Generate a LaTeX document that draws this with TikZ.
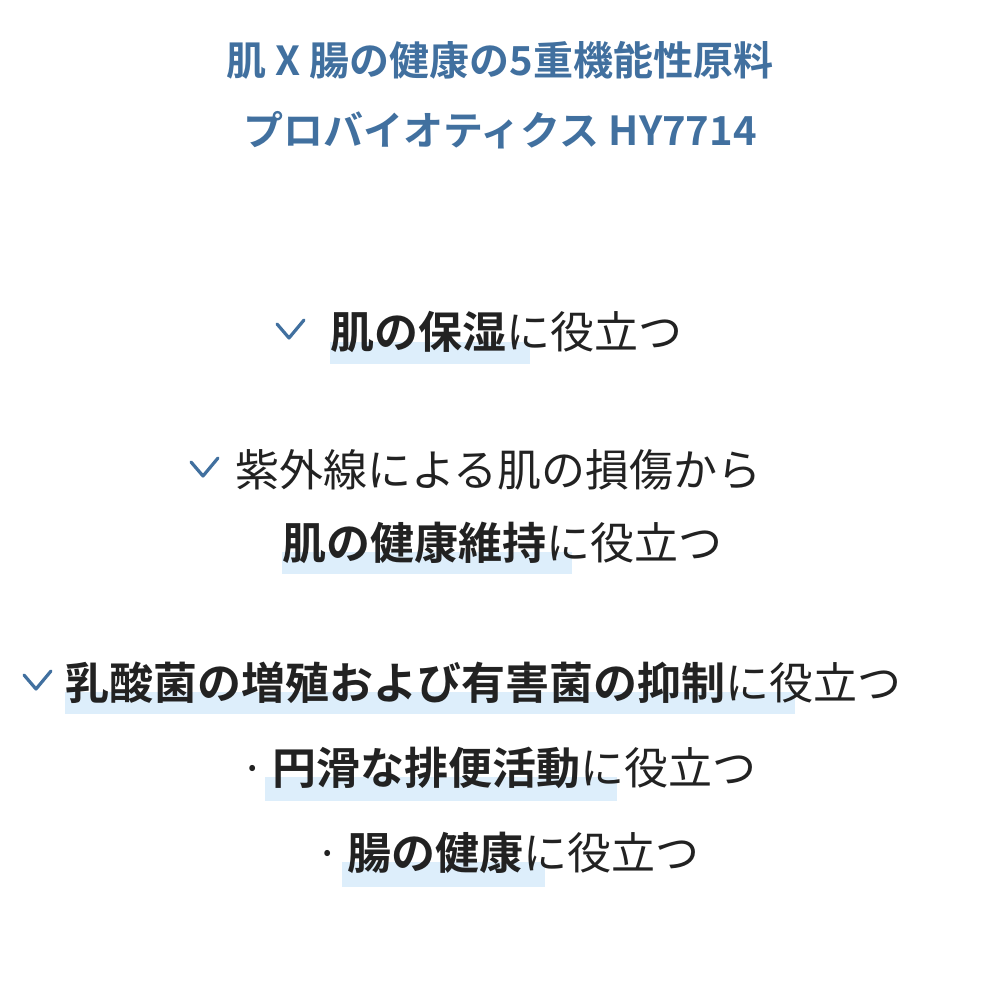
\documentclass[tikz,border=0pt]{standalone}
\usepackage{fontspec}
\setmainfont{Noto Sans CJK JP}
\newfontfamily\jpb{Noto Sans CJK JP Bold}
\definecolor{ttl}{HTML}{41709F}
\definecolor{hl}{HTML}{DDEEFB}
\definecolor{txt}{HTML}{222222}
\tikzset{
 ln/.style={anchor=west,inner sep=0pt,text=txt,font=\fontsize{44}{48}\selectfont},
 tl/.style={inner sep=0pt,text=ttl,font=\jpb\fontsize{40}{44}\selectfont},
 hlbox/.style={fill=hl,draw=none},
 chk/.style={draw=ttl,line width=3.2pt,line cap=round,line join=round}
}
\begin{document}
\begin{tikzpicture}[x=1pt,y=-1pt]
\useasboundingbox (0,0) rectangle (1000,1000);
\node[tl] (t1) at (500,60) {肌 X 腸の健康の5重機能性原料};
\node[tl] (t2) at (500,130) {プロバイオティクス HY7714};
% highlights
\fill[hl] (330,342) rectangle (530,364);
\fill[hl] (282,552) rectangle (572,574);
\fill[hl] (65,692) rectangle (795,714);
\fill[hl] (265,777) rectangle (617,801);
\fill[hl] (342,862) rectangle (545,887);
% checks
\draw[chk] (277,324) -- (289,338) -- (304,320);
\draw[chk] (191,462) -- (203,476) -- (218,458);
\draw[chk] (24,675) -- (36,689) -- (51,671);
\node[ln] (a) at (330,332) {{\jpb 肌の保湿}に役立つ};
\node[ln] (b) at (235,470) {紫外線による肌の損傷から};
\node[ln] (c) at (282,543) {{\jpb 肌の健康維持}に役立つ};
\node[ln] (d) at (65,683) {{\jpb 乳酸菌の増殖および有害菌の抑制}に役立つ};
\node[ln] (e) at (240,768) {·\,{\jpb 円滑な排便活動}に役立つ};
\node[ln] (f) at (315,853) {·\,{\jpb 腸の健康}に役立つ};
\end{tikzpicture}
\end{document}
